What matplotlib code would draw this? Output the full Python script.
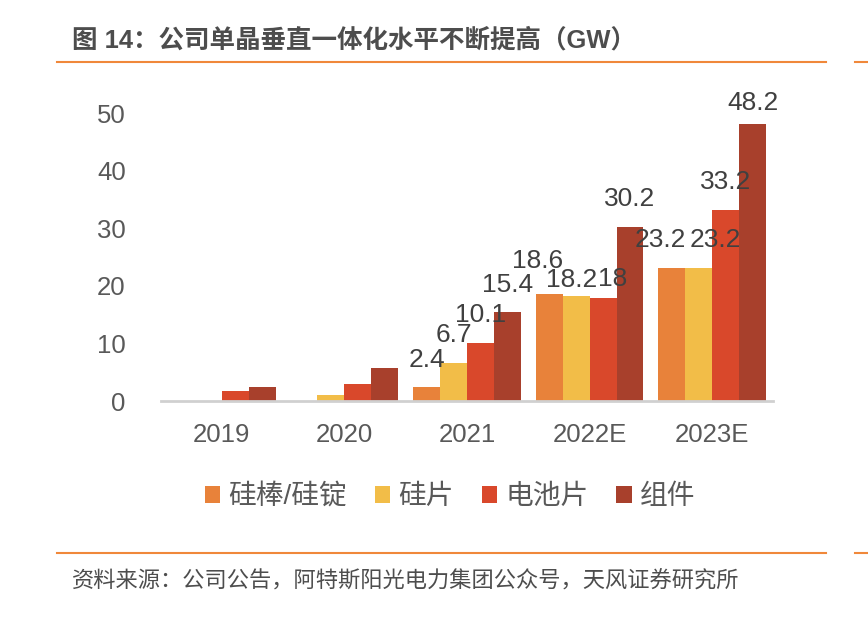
import matplotlib
matplotlib.use("Agg")
import matplotlib.pyplot as plt
import numpy as np

plt.rcParams['font.family'] = ['Liberation Sans', 'Noto Sans CJK SC', 'DejaVu Sans']

years = ['2019', '2020', '2021', '2022E', '2023E']
series = ['硅棒/硅锭', '硅片', '电池片', '组件']
ingot = [0, 0, 2.4, 18.6, 23.2]
wafer = [0, 1.0, 6.7, 18.2, 23.2]
cell = [1.7, 2.9, 10.1, 18, 33.2]
module = [2.4, 5.7, 15.4, 30.2, 48.2]
# only these years carry value labels in the original
labelled = [False, False, True, True, True]

colors = ['#E8823A', '#F2BD48', '#D9482B', '#A8402C']
values = [ingot, wafer, cell, module]

# label nudges in points (series, year) -> (dx, dy), like the crowded Excel labels
nudge = {(0, 3): (-8, 4), (1, 3): (-3, -8), (2, 3): (7, -7),
         (0, 4): (-8, 0), (1, 4): (12, 0), (3, 4): (0, -5)}

fig = plt.figure(figsize=(8.68, 6.22), dpi=100)
ax = fig.add_axes([0.185, 0.355, 0.706, 0.463])

x = np.arange(len(years))
w = 0.22
for i, (vals, c, name) in enumerate(zip(values, colors, series)):
    pos = x + (i - 1.5) * w
    ax.bar(pos, vals, width=w, color=c, label=name, zorder=2)
    for j, (p, v, lab) in enumerate(zip(pos, vals, labelled)):
        if lab:
            dx, dy = nudge.get((i, j), (0, 0))
            ax.annotate('%g' % v, (p, v), xytext=(dx, 20 + dy), textcoords='offset points',
                        ha='center', va='center', fontsize=19, color='#404040',
                        annotation_clip=False)

ax.set_xlim(-0.5, 4.5)
ax.set_ylim(0, 50)
ax.set_yticks([0, 10, 20, 30, 40, 50])
ax.set_xticks(x)
ax.set_xticklabels(years)
ax.tick_params(axis='both', length=0, labelsize=18.5, labelcolor='#595959')
ax.tick_params(axis='y', pad=25)
ax.tick_params(axis='x', pad=16)
for s in ['top', 'right', 'left']:
    ax.spines[s].set_visible(False)
ax.spines['bottom'].set_color('#d0d0d0')
ax.spines['bottom'].set_linewidth(2)

leg = ax.legend(loc='center', ncol=4, frameon=False, fontsize=20,
                handlelength=0.55, handleheight=0.55, handletextpad=0.3,
                columnspacing=1.0)
leg.set_bbox_to_anchor((450 / 868, 1 - 497 / 622), transform=fig.transFigure)
for t in leg.get_texts():
    t.set_color('#595959')

fig.text(72 / 868, 1 - 40 / 622, '图 14：公司单晶垂直一体化水平不断提高（GW）',
         fontsize=18.4, fontweight='bold', color='#4d4d4d', va='center', ha='left')
fig.text(72 / 868, 1 - 582 / 622, '资料来源：公司公告，阿特斯阳光电力集团公众号，天风证券研究所',
         fontsize=16, color='#4d4d4d', va='center', ha='left')

orange = '#F0883A'
fig.add_artist(plt.Line2D([57 / 868, 826 / 868], [1 - 62 / 622] * 2, color=orange, lw=1.5))
fig.add_artist(plt.Line2D([855 / 868, 1.0], [1 - 62 / 622] * 2, color=orange, lw=1.5))
fig.add_artist(plt.Line2D([57 / 868, 826 / 868], [1 - 553 / 622] * 2, color=orange, lw=1.5))
fig.add_artist(plt.Line2D([855 / 868, 1.0], [1 - 553 / 622] * 2, color=orange, lw=1.5))

fig.savefig('out.png', dpi=100)
